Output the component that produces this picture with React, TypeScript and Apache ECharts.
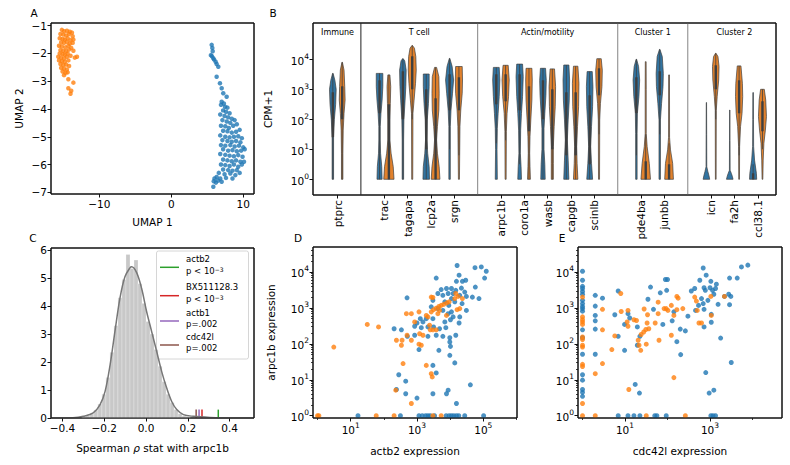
import React, { useEffect, useRef } from 'react';
import * as echarts from 'echarts';

const FONT = 'DejaVu Sans';
const BLUE = '#1f77b4';
const ORANGE = '#ff7f0e';
const V_BLUE = '#3274a1';
const V_ORANGE = '#e1812c';
const EDGE = '#3f3f3f';

// ---------------- Panel A: UMAP ----------------
const umapOrange: number[][] = [
  [-15.2,-1.15],[-14.9,-1.2],[-14.5,-1.18],[-14.1,-1.22],[-13.8,-1.25],[-15.4,-1.3],[-15.0,-1.32],[-14.6,-1.35],[-14.2,-1.3],[-13.7,-1.38],
  [-15.5,-1.45],[-15.1,-1.48],[-14.8,-1.5],[-14.4,-1.45],[-14.0,-1.52],[-13.6,-1.5],[-15.3,-1.6],[-14.9,-1.62],[-14.5,-1.58],[-14.1,-1.65],[-13.7,-1.62],
  [-15.6,-1.72],[-15.2,-1.75],[-14.7,-1.78],[-14.3,-1.72],[-13.9,-1.8],[-15.4,-1.88],[-15.0,-1.9],[-14.6,-1.92],[-14.2,-1.86],[-13.6,-1.9],
  [-15.5,-2.0],[-15.1,-2.02],[-14.8,-2.05],[-14.4,-2.0],[-14.0,-2.08],[-15.7,-2.12],[-15.3,-2.15],[-14.9,-2.18],[-14.5,-2.12],[-13.1,-2.12],[-13.4,-2.15],
  [-15.6,-2.25],[-15.2,-2.28],[-14.8,-2.3],[-14.3,-2.25],[-15.4,-2.38],[-15.0,-2.42],[-14.6,-2.4],[-14.2,-2.45],[-15.3,-2.52],[-14.9,-2.55],[-14.5,-2.58],
  [-15.1,-2.65],[-14.7,-2.7],[-14.4,-2.68],[-14.9,-2.78],[-14.3,-2.93],[-13.6,-3.05],[-14.3,-3.25],[-13.9,-3.34],[-14.0,-3.45]
];
const umapBlue: number[][] = [
  [5.61,-1.69],[5.7,-1.8],[5.75,-1.92],[5.5,-2.06],[5.65,-2.1],[5.83,-2.17],[5.95,-2.22],[6.16,-2.3],[6.3,-2.38],[6.53,-2.48],[6.3,-2.84],
  [6.76,-3.07],[7.0,-3.25],[7.22,-3.43],[7.69,-3.56],[7.0,-3.74],[7.46,-3.92],
  [6.9,-3.85],[7.3,-3.8],[7.8,-3.95],[7.2,-4.05],[7.6,-4.1],[8.1,-4.15],[6.8,-4.2],[7.4,-4.25],[7.9,-4.3],[8.4,-4.35],[7.1,-4.4],[7.7,-4.45],[8.8,-4.4],[8.2,-4.5],
  [6.9,-4.6],[7.5,-4.62],[8.0,-4.68],[8.6,-4.6],[9.1,-4.55],[7.2,-4.78],[7.8,-4.8],[8.4,-4.85],[9.0,-4.82],[9.5,-4.75],[6.8,-4.95],[7.5,-5.0],[8.1,-5.02],
  [8.7,-5.0],[9.3,-4.98],[9.8,-5.05],[7.1,-5.12],[7.8,-5.15],[8.4,-5.18],[9.0,-5.15],[9.6,-5.2],[6.9,-5.3],[7.5,-5.32],[8.2,-5.3],[8.8,-5.35],[9.4,-5.32],[10.0,-5.38],
  [7.2,-5.45],[7.9,-5.5],[8.5,-5.48],[9.1,-5.52],[9.7,-5.5],[10.2,-5.45],[6.8,-5.62],[7.5,-5.65],[8.1,-5.68],[8.7,-5.7],[9.3,-5.66],[9.9,-5.72],
  [7.2,-5.82],[7.8,-5.85],[8.4,-5.88],[9.0,-5.85],[9.6,-5.9],[6.9,-6.0],[7.5,-6.02],[8.1,-6.05],[8.7,-6.0],[9.3,-6.08],[9.8,-6.0],
  [7.2,-6.18],[7.9,-6.2],[8.5,-6.22],[9.1,-6.2],[6.6,-6.3],[7.4,-6.35],[8.2,-6.32],[8.9,-6.38],
  [6.3,-6.45],[6.0,-6.5],[6.8,-6.5],[7.6,-6.48],[6.5,-6.58],[5.9,-6.6],[7.0,-6.62],[6.2,-6.65],[5.84,-6.8],[8.5,-6.5],[9.5,-6.3],[10.1,-5.9]
];
const umapXTicks = [-10, 0, 10];
const umapYTicks = [-7, -6, -5, -4, -3, -2, -1];

// ---------------- Panel B: violins (log10 CPM+1) ----------------
const genes = ['ptprc','trac','tagapa','lcp2a','srgn','arpc1b','coro1a','wasb','capgb','scinlb','pde4ba','junbb','icn','fa2h','ccl38.1'];
const geneSlots = [0, 2, 3, 4, 5, 7, 8, 9, 10, 11, 13, 14, 16, 17, 18];
const groupNames = ['Immune', 'T cell', 'Actin/motility', 'Cluster 1', 'Cluster 2'];
const groupCenters = [0, 3.5, 9, 13.5, 17];
const groupDividers = [1, 6, 12, 15];
const bYTicks = [0, 1, 2, 3, 4];
// density profiles: [log10(CPM+1), relative half-width]
const violinBlue: number[][][] = [
  [[0,0.14],[1.4,0.14],[2.0,0.3],[2.5,0.55],[3.0,0.65],[3.3,0.4],[3.53,0.05]],
  [[0,0.5],[0.42,0.43],[0.87,0.2],[1.31,0.14],[1.76,0.14],[2.2,0.28],[2.64,0.5],[3.09,0.64],[3.53,0.64]],
  [[0,0.14],[1.31,0.14],[1.98,0.2],[2.64,0.43],[3.09,0.57],[3.64,0.64],[3.95,0.36],[4.02,0.05]],
  [[0,0.64],[0.42,0.57],[0.87,0.28],[1.31,0.14],[1.98,0.2],[2.53,0.43],[3.09,0.57],[3.51,0.57]],
  [[0,0.14],[1.76,0.14],[2.31,0.28],[2.87,0.57],[3.31,0.78],[3.76,0.5],[4.03,0.05]],
  [[0,0.2],[1.0,0.14],[1.7,0.2],[2.2,0.36],[2.76,0.57],[3.31,0.7],[3.73,0.57]],
  [[0,0.36],[0.42,0.28],[0.87,0.14],[1.64,0.2],[2.2,0.36],[2.76,0.57],[3.42,0.7],[3.84,0.57]],
  [[0,0.43],[0.5,0.36],[1.0,0.2],[1.7,0.2],[2.2,0.36],[2.8,0.57],[3.3,0.64],[3.7,0.5]],
  [[0,0.5],[0.64,0.36],[1.31,0.2],[1.98,0.36],[2.64,0.57],[3.31,0.64],[3.81,0.5]],
  [[0,0.57],[0.53,0.36],[1.09,0.2],[1.76,0.36],[2.42,0.57],[3.09,0.64],[3.59,0.5]],
  [[0,0.14],[1.53,0.14],[2.2,0.2],[2.76,0.5],[3.31,0.64],[3.76,0.43],[4.0,0.05]],
  [[0,0.14],[1.98,0.14],[2.53,0.36],[3.09,0.64],[3.53,0.7],[4.09,0.5],[4.33,0.05]],
  [[0,0.64],[0.12,0.5],[0.26,0.28],[0.42,0.07],[1.5,0.05],[2.56,0.03]],
  [[0,0.64],[0.1,0.5],[0.2,0.3],[0.3,0.07],[1.3,0.05],[2.31,0.03]],
  [[0,0.7],[0.2,0.64],[0.64,0.28],[1.09,0.1],[2.0,0.07],[2.89,0.05]]
];
const violinOrange: number[][][] = [
  [[0,0.14],[0.87,0.14],[1.64,0.2],[2.2,0.36],[2.64,0.57],[3.09,0.5],[3.64,0.36],[3.9,0.05]],
  [[0,1.0],[0.42,0.85],[0.87,0.43],[1.31,0.2],[1.98,0.2],[2.53,0.28],[3.09,0.36],[3.48,0.2]],
  [[0,0.1],[2.2,0.14],[2.64,0.36],[3.2,0.64],[3.64,0.78],[4.09,0.7],[4.37,0.43],[4.46,0.05]],
  [[0,0.85],[0.42,0.7],[0.87,0.36],[1.31,0.2],[1.76,0.36],[2.31,0.64],[2.87,0.7],[3.42,0.64],[3.73,0.2]],
  [[0,0.1],[1.76,0.2],[2.31,0.36],[2.87,0.64],[3.31,0.7],[3.76,0.64]],
  [[0,0.1],[1.6,0.14],[2.2,0.28],[2.76,0.57],[3.31,0.7],[3.8,0.5]],
  [[0,0.28],[0.42,0.2],[0.87,0.14],[1.42,0.2],[1.98,0.36],[2.64,0.57],[3.31,0.64],[3.7,0.57]],
  [[0,0.2],[0.53,0.2],[1.09,0.2],[1.76,0.36],[2.42,0.57],[3.09,0.64],[3.68,0.43]],
  [[0,0.43],[0.53,0.28],[1.09,0.2],[1.76,0.36],[2.42,0.57],[3.2,0.64],[3.77,0.43]],
  [[0,0.1],[1.98,0.14],[2.53,0.28],[3.09,0.57],[3.64,0.64],[4.02,0.43]],
  [[0,0.93],[0.53,0.7],[1.09,0.28],[1.53,0.1],[3.0,0.1],[3.92,0.08]],
  [[0,0.85],[0.53,0.7],[0.98,0.28],[1.4,0.1],[3.48,0.08]],
  [[0,0.07],[2.3,0.1],[2.76,0.28],[3.31,0.57],[3.76,0.64],[4.09,0.43],[4.2,0.05]],
  [[0,0.07],[1.09,0.1],[1.76,0.28],[2.2,0.57],[2.76,0.7],[3.2,0.64],[3.78,0.36]],
  [[0,0.07],[0.64,0.14],[1.2,0.28],[1.64,0.57],[2.09,0.78],[2.64,0.64],[3.0,0.36]]
];
// inner box: [whisker low, q1, q3, whisker high]
const boxBlue: number[][] = [
  [0,1.4,2.9,3.53],[0,2.2,3.3,3.53],[0,2.0,3.6,4.02],[0,1.0,3.0,3.51],[1.0,2.3,3.5,4.03],
  [1.2,2.5,3.5,3.73],[0.5,2.3,3.5,3.84],[0,2.0,3.3,3.7],[0,0.8,2.9,3.81],[0,0.5,2.8,3.59],
  [0.8,2.2,3.4,4.0],[1.5,2.8,3.6,4.33],[0,0,0,0],[0,0,0,0],[0,0,0.2,0.5]
];
const boxOrange: number[][] = [
  [0,2.0,3.1,3.9],[0,0,2.5,3.48],[2.0,3.0,4.1,4.46],[0,0,2.7,3.73],[0.8,2.3,3.4,3.76],
  [1.3,2.6,3.5,3.8],[0,1.6,3.1,3.7],[0,1.0,3.0,3.68],[0,0.8,2.9,3.77],[1.5,2.8,3.7,4.02],
  [0,0,0.6,1.5],[0,0,0.5,1.2],[2.0,3.0,3.8,4.2],[0.8,2.2,3.3,3.78],[1.0,1.6,2.6,3.0]
];

// ---------------- Panel C: permutation histogram ----------------
const HIST_W = 0.0192;
const histLefts = [-0.3072,-0.288,-0.2688,-0.2496,-0.2304,-0.2112,-0.192,-0.1728,-0.1536,-0.1344,-0.1152,-0.096,-0.0768,-0.0576,-0.0384,-0.0192,0,0.0192,0.0384,0.0576,0.0768,0.096,0.1152,0.1344,0.1536,0.1728,0.192];
const histHeights = [0.04,0.08,0.15,0.28,0.5,0.85,1.45,2.35,3.3,4.3,4.95,5.85,5.35,5.65,4.8,4.1,3.45,3.0,2.45,1.85,1.3,0.85,0.55,0.3,0.15,0.07,0.03];
const kdeX = [-0.455,-0.35,-0.30,-0.253,-0.22,-0.196,-0.172,-0.149,-0.125,-0.101,-0.077,-0.069,-0.045,-0.021,0.003,0.027,0.051,0.075,0.099,0.123,0.147,0.179,0.227,0.307,0.4,0.517];
const kdeY = [0,0.01,0.06,0.18,0.48,0.95,1.9,3.09,4.28,5.05,5.37,5.41,5.2,4.63,3.8,3.09,2.38,1.66,1.07,0.59,0.3,0.12,0.06,0.02,0,0];
const markerGenes = ['actb2', 'BX511128.3', 'actb1', 'cdc42l'];
const markerP = ['p < 10{s|−3}', 'p < 10{s|−3}', 'p=.002', 'p=.002'];
const markerRho = [0.346, 0.268, 0.254, 0.24];
const markerColors = ['#2ca02c', '#d62728', '#9467bd', '#8c564b'];
const cXTicks = [-0.4, -0.2, 0, 0.2, 0.4];
const cYTicks = [0, 1, 2, 3, 4, 5, 6];

// ---------------- Panels D & E: log10 expression scatter ----------------
const dBlue: number[][] = [
  [4.21,4.18],[4.75,4.12],[4.94,4.14],[5.09,4.02],[5.04,3.83],[4.27,3.91],[4.47,3.77],[4.37,3.74],[4.19,3.74],[3.58,3.83],
  [3.73,3.51],[4.04,3.54],[3.89,3.54],[4.17,3.49],[4.34,3.55],[4.76,3.58],[4.44,3.44],[4.09,3.40],[3.94,3.40],[3.63,3.40],
  [3.78,3.35],[4.29,3.35],[4.49,3.32],[4.67,3.30],[4.87,3.26],[2.70,3.28],[4.04,3.26],[3.48,3.21],[3.84,3.17],[3.96,3.07],
  [4.14,3.17],[4.36,3.12],[4.49,2.93],[3.43,3.03],[3.63,2.98],[3.78,2.93],[3.94,2.84],[4.04,2.89],[4.09,2.75],[4.29,2.75],
  [3.10,2.70],[3.28,2.70],[3.48,2.70],[3.18,2.61],[3.84,2.61],[4.01,2.67],[4.27,2.58],[2.93,2.49],[3.00,2.58],[3.13,2.45],
  [3.33,2.47],[3.50,2.47],[3.68,2.42],[3.87,2.45],[2.31,2.42],[2.53,2.39],[2.71,2.21],[2.93,2.24],[3.33,2.21],[3.58,2.24],
  [3.78,2.21],[3.99,2.17],[4.17,2.24],[3.99,2.05],[4.01,1.93],[3.06,1.84],[3.66,1.82],[3.99,1.68],[4.14,1.47],[3.48,1.40],
  [2.45,1.14],[3.58,1.19],[2.66,0.96],[4.61,0.86],[2.38,0.73],[2.66,0.61],[3.94,0.71],[3.89,0.61],[3.48,0.61],[3.00,0.49],[4.19,0.34],
  [1.22,0],[2.5,0],[3.06,0],[3.16,0],[3.26,0],[3.33,0],[3.40,0],[3.53,0],[3.88,0],[3.97,0],[4.04,0],[4.11,0],[4.19,0],[4.26,0],[4.44,0],[5.01,0]
];
const dOrange: number[][] = [
  [0.49,1.91],[1.50,2.54],[1.84,2.47],[2.38,2.10],[2.55,2.10],[2.53,1.96],[2.70,2.24],[2.83,2.10],[2.68,2.84],[2.83,2.84],
  [3.06,2.89],[2.93,2.61],[3.08,2.28],[3.18,2.24],[3.06,1.99],[3.13,1.96],[3.40,2.39],[3.48,2.39],[3.58,2.39],[3.33,2.75],
  [3.38,2.52],[3.28,2.79],[3.43,2.89],[3.50,2.95],[3.58,2.99],[3.66,3.04],[3.73,3.07],[3.81,3.10],[3.90,3.14],[3.97,3.17],
  [4.14,3.26],[4.24,3.32],[4.17,3.40],[4.37,3.26],[4.21,2.95],[4.29,2.98],[3.68,2.93],[3.63,2.84],[3.89,2.79],[3.48,3.29],
  [3.43,3.30],[2.58,1.45],[3.28,1.40],[3.43,1.17],[3.46,1.08],[2.36,0.71],[2.83,0.34],
  [0,0],[0.04,0],[1.77,0],[2.31,0],[3.48,0],[3.73,0]
];
const eBlue: number[][] = [
  [0,4.02],[0,3.77],[0,3.60],[0,3.54],[0,3.46],[0,3.38],[0,3.21],[0,3.12],[0,3.04],[0,2.98],[0,2.91],[0,2.39],[0,2.17],[0,1.71],
  [0,1.14],[0,0.99],[0,0.73],[0,0.65],[0,0.54],
  [0.30,3.35],[0.30,3.05],[0.30,2.79],[0.30,2.64],[0.30,2.41],[0.30,1.71],[0.47,3.27],
  [0.84,3.47],[0.76,2.81],[0.84,2.21],[0.99,1.82],[1.07,2.84],[1.11,2.72],[0.99,2.54],[1.29,2.47],[1.35,2.21],[1.29,1.96],
  [1.24,0.87],[1.34,0.63],[1.54,3.24],[1.60,3.58],[1.67,2.96],[1.83,3.42],[1.98,3.49],[1.95,3.79],[2.00,3.79],[1.89,2.54],
  [2.11,2.64],[2.15,2.89],[2.22,2.06],[2.30,2.41],[2.31,1.70],[2.42,2.36],[2.48,2.77],[2.56,3.47],[2.64,3.54],[2.66,2.93],
  [2.73,3.07],[2.76,3.77],[2.84,4.11],[2.86,3.56],[2.89,3.49],[2.91,3.91],[2.80,3.26],[2.84,3.12],[2.86,2.96],[2.86,2.47],
  [2.95,3.21],[3.00,3.56],[3.02,3.74],[3.06,3.49],[3.13,3.54],[3.15,3.66],[3.09,3.38],[3.19,3.10],[3.03,2.82],[3.03,2.60],
  [2.90,1.20],[2.98,0.63],[3.09,0.71],[3.25,2.16],[3.34,3.32],[3.46,3.83],[3.46,3.09],[3.44,3.38],[3.49,3.32],[3.64,3.83],
  [3.74,4.14],[3.89,4.19],[3.50,1.48],
  [0.84,0],[1.07,0],[1.21,0],[1.35,0],[1.70,0],[1.75,0],[1.97,0],[3.02,0],[3.07,0],[3.13,0]
];
const eOrange: number[][] = [
  [0,3.30],[0,2.75],[0,2.67],[0,2.61],[0,2.54],[0,2.19],[0,2.12],[0,1.96],[0,1.91],[0,1.43],[0,1.37],[0,0.34],[0,0],
  [0.30,1.17],[0.30,0],[0.47,2.96],[0.47,2.39],[0.47,1.45],
  [0.90,3.40],[0.91,2.90],[1.07,2.93],[1.21,2.67],[1.27,2.65],[1.05,2.61],[1.07,2.49],[0.76,2.22],[0.69,1.84],[1.31,2.10],
  [1.33,1.96],[1.37,1.82],[1.38,2.26],[1.44,2.33],[1.49,2.40],[1.56,2.42],[1.50,1.99],[1.45,2.97],[1.53,2.81],[1.52,2.58],
  [1.71,2.58],[1.78,3.16],[1.80,2.10],[1.78,2.84],[1.92,2.98],[1.97,2.98],[2.01,2.93],[2.09,3.07],[2.15,2.79],[2.22,3.32],
  [2.25,3.27],[2.22,2.95],[2.09,2.24],[2.15,1.06],[2.36,2.98],[2.64,3.30],[2.68,3.19],[2.70,2.93],[2.74,2.58],[2.80,2.58],
  [3.02,3.32],[3.03,2.79],[3.34,3.32],[1.09,0.73],[1.50,0],[2.42,0]
];
const dXTicks = [1, 3, 5];
const dXMinor = [0, 2, 4, 6];
const eXTicks = [1, 3];
const eXMinor = [0, 2, 4];
const logYTicks = [0, 1, 2, 3, 4];

// ---------------- helpers ----------------
const minus = (s: string) => s.replace('-', '\u2212');
const supRich = {
  b: { fontSize: 10.5, fontFamily: FONT, color: '#000', lineHeight: 14, verticalAlign: 'bottom' },
  s: { fontSize: 7.5, fontFamily: FONT, color: '#000', lineHeight: 8, verticalAlign: 'top' },
};
const supFmt = (v: number) => `{b|10}{s|${Math.round(v)}}`;

function yMinorTicks(max: number) {
  const out: number[] = [];
  for (let n = 0; n <= 5; n++) for (let k = 2; k <= 9; k++) {
    const v = n + Math.log10(k);
    if (v < max) out.push(v);
  }
  return out;
}

const INK = '#111111';
const baseLabel = { fontSize: 10.5, fontFamily: FONT, color: '#000', margin: 4 };
const tickStyle = { length: 3.5, lineStyle: { color: INK, width: 1 } };
const nameStyle = { fontSize: 10.5, fontFamily: FONT, color: '#000' };

function axis(gridIndex: number, min: number, max: number, ticks: number[], fmt: any, extra: any = {}) {
  const { axisLabel, ...rest } = extra;
  return {
    type: 'value', gridIndex, min, max,
    axisLine: { show: false, onZero: false },
    splitLine: { show: false },
    axisTick: { show: true, customValues: ticks, ...tickStyle },
    axisLabel: { show: true, customValues: ticks, formatter: fmt, ...baseLabel, ...(axisLabel || {}) },
    nameTextStyle: nameStyle,
    ...rest,
  };
}
function minorAxis(gridIndex: number, min: number, max: number, ticks: number[], position: string) {
  return {
    type: 'value', gridIndex, min, max, position, offset: 0,
    axisLine: { show: false, onZero: false }, splitLine: { show: false },
    axisLabel: { show: false },
    axisTick: { show: true, customValues: ticks, length: 2, lineStyle: { color: INK, width: 0.8 } },
  };
}

// plot-area boxes (pixel layout)
const GRIDS = [
  { left: 51, top: 23, width: 203, height: 171 },
  { left: 313, top: 23, width: 463, height: 172 },
  { left: 51, top: 248, width: 203, height: 170 },
  { left: 313, top: 247, width: 204, height: 171 },
  { left: 578, top: 247, width: 204, height: 171 },
];
// axis extents per grid: [xAxisIndex, yAxisIndex, xmin, xmax, ymin, ymax]
const A_EXT = [-16.71, 11.49, -7.06, -0.903];
const B_EXT = [-1.05, 18.78, -0.523, 5.21];
const C_EXT = [-0.455, 0.517, 0, 6.08];
const D_EXT = [-0.137, 6.017, -0.064, 4.695];
const E_EXT = [-0.106, 4.694, -0.064, 4.695];

// frame as a closed line through the four corners of each plot area
function frameLine(xi: number, yi: number, ext: number[]) {
  const [x0, x1, y0, y1] = ext;
  return {
    type: 'line', xAxisIndex: xi, yAxisIndex: yi, z: 30, silent: true, clip: false,
    data: [[x0, y0], [x1, y0], [x1, y1], [x0, y1], [x0, y0]],
    showSymbol: false, symbol: 'none', smooth: false,
    lineStyle: { color: INK, width: 1 },
  };
}

function buildOption() {
  const violins: any[] = [];
  genes.forEach((g, i) => {
    violins.push({ x: geneSlots[i] - 0.2, profile: violinBlue[i], box: boxBlue[i], color: V_BLUE });
    violins.push({ x: geneSlots[i] + 0.2, profile: violinOrange[i], box: boxOrange[i], color: V_ORANGE });
  });
  const HW = 0.22;

  const legendChildren: any[] = [
    { type: 'rect', shape: { x: 156.5, y: 251, width: 92, height: 108, r: 2 }, style: { fill: 'rgba(255,255,255,0.85)', stroke: '#cccccc', lineWidth: 0.8 } },
  ];
  const lineY = [267.3, 295.7, 321, 345];
  markerGenes.forEach((g, i) => {
    legendChildren.push({ type: 'line', shape: { x1: 160, y1: lineY[i], x2: 179, y2: lineY[i] }, style: { stroke: markerColors[i], lineWidth: 1.5 } });
    legendChildren.push({ type: 'text', x: 186, y: lineY[i] - 8.5, style: { text: g, fontSize: 8.5, fontFamily: FONT, fill: '#000', align: 'left', verticalAlign: 'middle' } });
    legendChildren.push({ type: 'text', x: 186, y: lineY[i] + 3.3, style: { text: markerP[i], fontSize: 8.5, fontFamily: FONT, fill: '#000', align: 'left', verticalAlign: 'middle',
      rich: { s: { fontSize: 6, fontFamily: FONT, fill: '#000', lineHeight: 7, verticalAlign: 'top' } } } });
  });

  const letters = [['A', 34, 13], ['B', 273, 13], ['C', 33, 238], ['D', 298, 238], ['E', 562, 238]];

  return {
    animation: false,
    textStyle: { fontFamily: FONT },
    grid: GRIDS.map((g) => ({ ...g, show: true, borderColor: INK, borderWidth: 1, backgroundColor: 'rgba(0,0,0,0)', containLabel: false })),
    xAxis: [
      axis(0, A_EXT[0], A_EXT[1], umapXTicks, (v: number) => minus(String(v)), { name: 'UMAP 1', nameLocation: 'middle', nameGap: 22, position: 'bottom' }),
      axis(1, B_EXT[0], B_EXT[1], geneSlots, (v: number) => genes[geneSlots.indexOf(Math.round(v))] || '', { position: 'bottom', axisLabel: { rotate: 90, margin: 5 } }),
      axis(2, C_EXT[0], C_EXT[1], cXTicks, (v: number) => minus(v.toFixed(1)), {
        position: 'bottom', name: 'Spearman {i|ρ} stat with arpc1b', nameLocation: 'middle', nameGap: 24,
        nameTextStyle: { ...nameStyle, rich: { i: { fontSize: 10.5, fontFamily: FONT, fontStyle: 'italic', color: '#000' } } },
      }),
      axis(3, D_EXT[0], D_EXT[1], dXTicks, supFmt, { position: 'bottom', name: 'actb2 expression', nameLocation: 'middle', nameGap: 27, axisLabel: { rich: supRich, margin: 3 } }),
      minorAxis(3, D_EXT[0], D_EXT[1], dXMinor, 'bottom'),
      axis(4, E_EXT[0], E_EXT[1], eXTicks, supFmt, { position: 'bottom', name: 'cdc42l expression', nameLocation: 'middle', nameGap: 27, axisLabel: { rich: supRich, margin: 3 } }),
      minorAxis(4, E_EXT[0], E_EXT[1], eXMinor, 'bottom'),
    ],
    yAxis: [
      axis(0, A_EXT[2], A_EXT[3], umapYTicks, (v: number) => minus(String(v)), { name: 'UMAP 2', nameLocation: 'middle', nameGap: 27, position: 'left' }),
      axis(1, B_EXT[2], B_EXT[3], bYTicks, supFmt, { position: 'left', name: 'CPM+1', nameLocation: 'middle', nameGap: 40, axisLabel: { rich: supRich } }),
      axis(2, C_EXT[2], C_EXT[3], cYTicks, (v: number) => String(v), { position: 'left' }),
      axis(3, D_EXT[2], D_EXT[3], logYTicks, supFmt, { position: 'left', name: 'arpc1b expression', nameLocation: 'middle', nameGap: 37, axisLabel: { rich: supRich } }),
      minorAxis(3, D_EXT[2], D_EXT[3], yMinorTicks(D_EXT[3]), 'left'),
      axis(4, E_EXT[2], E_EXT[3], logYTicks, supFmt, { position: 'left', axisLabel: { rich: supRich } }),
      minorAxis(4, E_EXT[2], E_EXT[3], yMinorTicks(E_EXT[3]), 'left'),
    ],
    graphic: {
      elements: [
        ...letters.map(([t, x, y]) => ({ type: 'text', x, y, style: { text: t, fontSize: 10.5, fontFamily: FONT, fill: '#000', align: 'center', verticalAlign: 'middle' } })),
        { type: 'group', z: 101, children: legendChildren },
      ],
    },
    series: [
      // A
      { type: 'scatter', xAxisIndex: 0, yAxisIndex: 0, data: umapBlue, symbolSize: 4.5, itemStyle: { color: BLUE } },
      { type: 'scatter', xAxisIndex: 0, yAxisIndex: 0, data: umapOrange, symbolSize: 4.5, itemStyle: { color: ORANGE } },
      // B dividers
      {
        type: 'custom', xAxisIndex: 1, yAxisIndex: 1, data: groupDividers.map((x, i) => [x, 0, i]),
        renderItem: (params: any, api: any) => {
          const x = api.value(0);
          const t = api.coord([x, B_EXT[3]]);
          const b = api.coord([x, B_EXT[2]]);
          return { type: 'line', shape: { x1: t[0], y1: t[1], x2: b[0], y2: b[1] }, style: { stroke: api.value(2) === 0 ? '#444444' : '#999999', lineWidth: 1.2 } };
        },
      },
      // B group labels
      {
        type: 'custom', xAxisIndex: 1, yAxisIndex: 1, data: groupCenters.map((c, i) => [c, 4.88, i]),
        renderItem: (params: any, api: any) => {
          const p = api.coord([api.value(0), api.value(1)]);
          return { type: 'text', x: p[0], y: p[1], style: { text: groupNames[api.value(2)], fontSize: 8, fontFamily: FONT, fill: '#000', align: 'center', verticalAlign: 'middle' } };
        },
      },
      // B violins
      {
        type: 'custom', xAxisIndex: 1, yAxisIndex: 1, data: violins.map((v, i) => [v.x, 0, i]),
        renderItem: (params: any, api: any) => {
          const v = violins[api.value(2)];
          const right = v.profile.map(([l, h]: number[]) => api.coord([v.x + h * HW, l]));
          const left = v.profile.slice().reverse().map(([l, h]: number[]) => api.coord([v.x - h * HW, l]));
          const [lo, q1, q3, hi] = v.box;
          const c0 = api.coord([v.x, lo]), c1 = api.coord([v.x, hi]);
          const b0 = api.coord([v.x, q1]), b1 = api.coord([v.x, q3]);
          const children: any[] = [
            { type: 'polygon', shape: { points: right.concat(left) }, style: { fill: v.color, stroke: EDGE, lineWidth: 0.7 } },
          ];
          if (hi > lo) children.push({ type: 'line', shape: { x1: c0[0], y1: c0[1], x2: c1[0], y2: c1[1] }, style: { stroke: EDGE, lineWidth: 0.8 } });
          if (q3 > q1) children.push({ type: 'line', shape: { x1: b0[0], y1: b0[1], x2: b1[0], y2: b1[1] }, style: { stroke: EDGE, lineWidth: 2.4 } });
          return { type: 'group', children };
        },
      },
      // C histogram
      {
        type: 'custom', xAxisIndex: 2, yAxisIndex: 2, data: histLefts.map((l, i) => [l, histHeights[i]]),
        renderItem: (params: any, api: any) => {
          const l = api.value(0), h = api.value(1);
          const p0 = api.coord([l, h]);
          const p1 = api.coord([l + HIST_W, 0]);
          return { type: 'rect', shape: { x: p0[0], y: p0[1], width: p1[0] - p0[0], height: p1[1] - p0[1] }, style: { fill: '#c8c8c8', stroke: '#ffffff', lineWidth: 0.25 } };
        },
      },
      {
        type: 'line', xAxisIndex: 2, yAxisIndex: 2, data: kdeX.map((x, i) => [x, kdeY[i]]), smooth: 0.35, showSymbol: false,
        lineStyle: { color: '#777777', width: 1.5 },
      },
      {
        type: 'custom', xAxisIndex: 2, yAxisIndex: 2, data: markerRho.map((r, i) => [r, 0.3, i]),
        renderItem: (params: any, api: any) => {
          const t = api.coord([api.value(0), api.value(1)]);
          const b = api.coord([api.value(0), 0]);
          return { type: 'line', shape: { x1: t[0], y1: t[1], x2: b[0], y2: b[1] }, style: { stroke: markerColors[api.value(2)], lineWidth: 1.5 } };
        },
      },
      // D
      { type: 'scatter', xAxisIndex: 3, yAxisIndex: 3, data: dBlue, symbolSize: 5, itemStyle: { color: BLUE, opacity: 0.8 } },
      { type: 'scatter', xAxisIndex: 3, yAxisIndex: 3, data: dOrange, symbolSize: 5, itemStyle: { color: ORANGE, opacity: 0.8 } },
      // E
      { type: 'scatter', xAxisIndex: 5, yAxisIndex: 5, data: eBlue, symbolSize: 5, itemStyle: { color: BLUE, opacity: 0.8 } },
      { type: 'scatter', xAxisIndex: 5, yAxisIndex: 5, data: eOrange, symbolSize: 5, itemStyle: { color: ORANGE, opacity: 0.8 } },
      // plot frames
      frameLine(0, 0, A_EXT),
      frameLine(1, 1, B_EXT),
      frameLine(2, 2, C_EXT),
      frameLine(3, 3, D_EXT),
      frameLine(5, 5, E_EXT),
    ],
  };
}

export default function App() {
  const ref = useRef<HTMLDivElement>(null);
  useEffect(() => {
    document.body.style.margin = '0';
    const chart = echarts.init(ref.current!, null, { renderer: 'svg' });
    chart.setOption(buildOption() as any);
    return () => chart.dispose();
  }, []);
  return <div ref={ref} style={{ position: 'absolute', left: 0, top: 0, width: 790, height: 465 }} />;
}
